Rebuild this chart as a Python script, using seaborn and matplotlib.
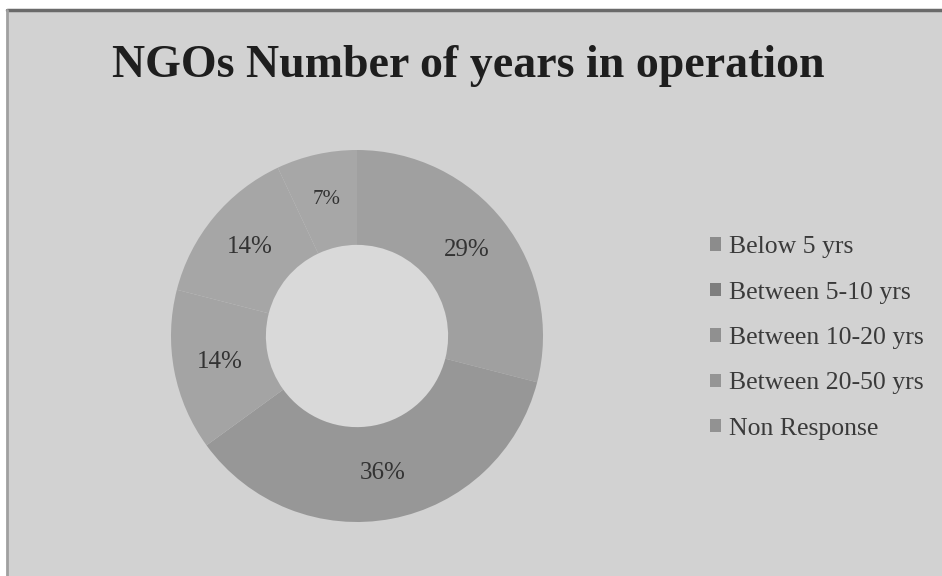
import matplotlib
matplotlib.use("Agg")
import matplotlib.pyplot as plt
import seaborn as sns
import numpy as np
from matplotlib.patches import Rectangle
from matplotlib.lines import Line2D

categories = ["Below 5 yrs", "Between 5-10 yrs", "Between 10-20 yrs",
              "Between 20-50 yrs", "Non Response"]
values = [29, 36, 14, 14, 7]
pct_labels = ["29%", "36%", "14%", "14%", "7%"]
title = "NGOs Number of years in operation"

sns.set_theme(style="white")
plt.rcParams["font.family"] = ["Liberation Serif", "DejaVu Serif"]

slice_colors = ["#a0a0a0", "#979797", "#a4a4a4", "#a6a6a6", "#a7a7a7"]
legend_colors = ["#8c8c8c", "#7e7e7e", "#909090", "#959595", "#929292"]
bg = "#d2d2d2"
hole = "#d9d9d9"

fig = plt.figure(figsize=(9.42, 5.76), dpi=100)
fig.patch.set_facecolor("white")
fig.add_artist(Rectangle((7/942, 0), 1 - 7/942, 1 - 10/576, transform=fig.transFigure,
                         facecolor=bg, edgecolor="none", zorder=0))
fig.add_artist(Line2D([7/942, 1], [1 - 10/576, 1 - 10/576], transform=fig.transFigure,
                      color="#6a6a6a", lw=2.5, zorder=1))
fig.add_artist(Line2D([7/942, 7/942], [0, 1 - 10/576], transform=fig.transFigure,
                      color="#a0a0a0", lw=2.0, zorder=1))

cx, cy, r = 357, 336, 186
ax = fig.add_axes([(cx - r) / 942, (576 - cy - r) / 576, 2 * r / 942, 2 * r / 576])
ax.set_facecolor("none")
wedges, _ = ax.pie(values, colors=slice_colors, startangle=90, counterclock=False,
                   radius=1.0, wedgeprops=dict(width=0.51, edgecolor="none"))
ax.add_patch(plt.Circle((0, 0), 0.49, facecolor=hole, edgecolor="none", zorder=0))
theta = 90.0
for v, lab in zip(values, pct_labels):
    mid = theta - v / 100 * 360 / 2
    theta -= v / 100 * 360
    rr = 0.75
    ax.text(rr * np.cos(np.radians(mid)), rr * np.sin(np.radians(mid)), lab,
            ha="center", va="center", fontsize=18 if v > 10 else 15,
            color="#333333")
ax.set_xlim(-1, 1)
ax.set_ylim(-1, 1)
ax.set_aspect("equal")
ax.axis("off")

fig.text(468 / 942, 1 - 66 / 576, title, ha="center", va="center",
         fontsize=33, fontweight="bold", color="#1e1e1e")

handles = [Rectangle((0, 0), 1, 1, facecolor=c, edgecolor="none") for c in legend_colors]
leg = fig.legend(handles, categories, loc="upper left",
                 bbox_to_anchor=(700 / 942, 1 - 226 / 576), frameon=False,
                 fontsize=18.5, handlelength=0.42, handleheight=0.42,
                 handletextpad=0.3, labelspacing=0.91, labelcolor="#3a3a3a",
                 borderaxespad=0)

fig.savefig("out.png", dpi=100, facecolor=fig.get_facecolor())
